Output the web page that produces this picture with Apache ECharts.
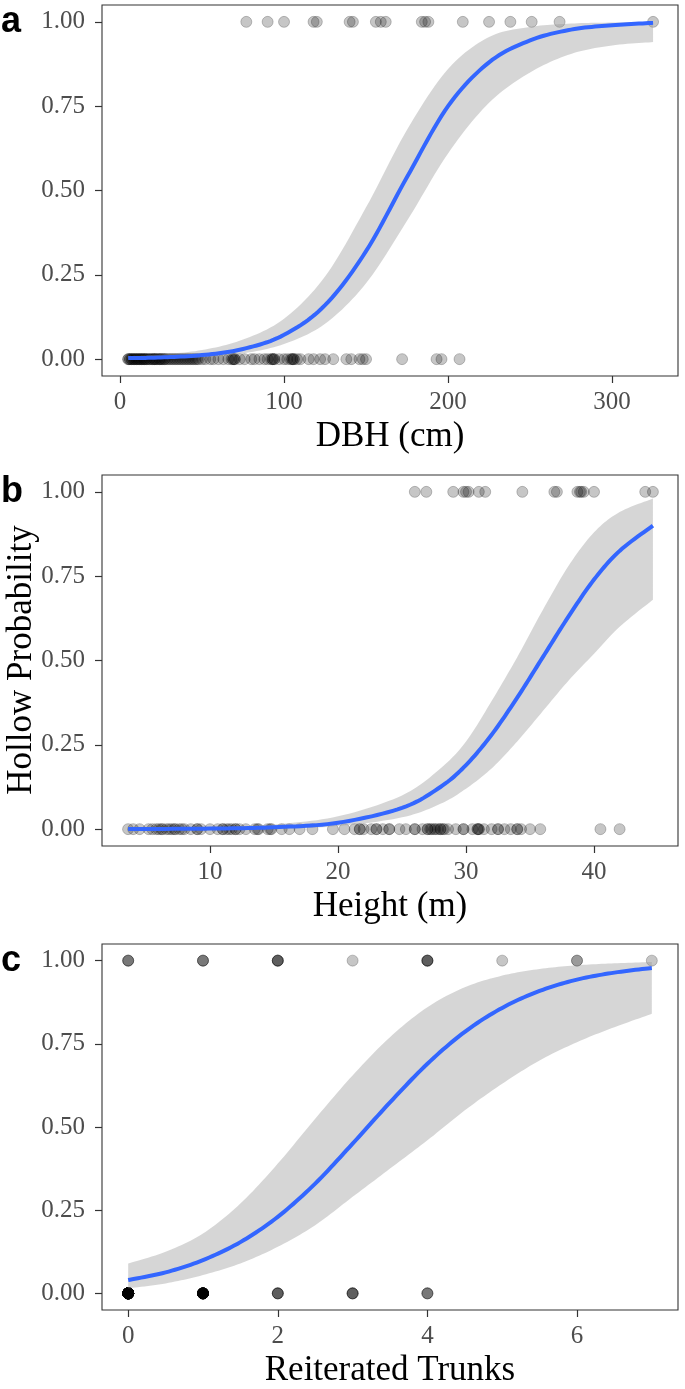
<!DOCTYPE html>
<html><head><meta charset="utf-8">
<script src="https://cdn.jsdelivr.net/npm/echarts@6/dist/echarts.min.js"></script>
<style>html,body{margin:0;padding:0;background:#fff}#c{width:685px;height:1389px}</style>
</head><body><div id="c"></div>
<script>
// ---- Panel a: DBH ----
const dbhOnes = [77, 90, 100, 118, 120, 140, 142, 156, 159, 162, 184, 186, 188, 209, 225, 238, 251, 268, 325];
const dbhZeros = [5, 5, 6, 6, 7, 7, 8, 8, 9, 9, 10, 10, 11, 11, 12, 12, 13, 13, 14, 14, 15, 15, 16, 16, 17, 18, 18, 19, 20, 20, 21, 21, 22, 22, 23, 24, 24, 25, 25, 26, 27, 27, 28, 29, 30, 31, 32, 33, 34, 35, 36, 37, 38, 39, 40, 41, 42, 43, 44, 45, 46, 47, 48, 50, 52, 55, 57, 60, 63, 66, 68, 69, 69, 70, 70, 73, 76, 80, 82, 85, 88, 90, 92, 93, 93, 94, 94, 97, 100, 102, 104, 105, 105, 106, 106, 108, 110, 115, 118, 122, 125, 130, 138, 141, 146, 148, 150, 172, 193, 196, 207];
const dbhCurveX = [5, 25, 50, 75, 100, 125, 150, 175, 200, 225, 250, 275, 300, 325];
const dbhFit = [0.003, 0.005, 0.012, 0.03, 0.072, 0.16, 0.32, 0.54, 0.75, 0.88, 0.945, 0.977, 0.99, 0.997];
const dbhLower = [0.001, 0.002, 0.006, 0.017, 0.045, 0.105, 0.225, 0.41, 0.61, 0.76, 0.85, 0.905, 0.93, 0.94];
const dbhUpper = [0.009, 0.014, 0.027, 0.058, 0.12, 0.245, 0.45, 0.68, 0.86, 0.955, 0.985, 0.995, 0.998, 0.999];
const dbhTicks = [0, 100, 200, 300];

// ---- Panel b: Height ----
const htOnes = [26.0, 26.9, 29.0, 29.8, 30.0, 30.2, 31.0, 31.5, 34.4, 36.9, 37.1, 38.7, 38.9, 39.0, 39.2, 40.0, 44.0, 44.6];
const htZeros = [3.6, 4.0, 4.5, 5.2, 5.5, 5.8, 6.0, 6.2, 6.3, 6.6, 6.8, 7.0, 7.2, 7.3, 7.6, 7.8, 8.0, 8.5, 9.0, 9.0, 9.3, 10.0, 10.6, 11.0, 11.0, 11.3, 11.5, 11.7, 12.0, 12.0, 12.3, 12.8, 13.5, 13.7, 13.8, 14.5, 14.7, 14.8, 15.6, 16.2, 17.0, 18.0, 19.6, 20.5, 21.3, 21.7, 21.7, 22.0, 22.6, 23.0, 23.0, 23.5, 24.0, 24.0, 24.8, 25.3, 26.0, 26.0, 26.6, 27.0, 27.0, 27.2, 27.3, 27.5, 27.6, 27.8, 28.0, 28.0, 28.2, 28.3, 28.6, 29.2, 29.8, 29.8, 30.5, 30.9, 30.9, 31.0, 31.0, 31.4, 32.0, 32.5, 32.5, 33.0, 33.5, 34.0, 34.0, 34.3, 35.0, 35.8, 40.5, 42.0];
const htCurveX = [3.6, 10, 15, 20, 25, 28, 30, 32, 34, 36, 38, 40, 42, 44.6];
const htFit = [0.0003, 0.0016, 0.0055, 0.019, 0.063, 0.125, 0.19, 0.28, 0.39, 0.51, 0.63, 0.74, 0.825, 0.90];
const htLower = [0.0001, 0.0005, 0.002, 0.009, 0.035, 0.075, 0.12, 0.18, 0.26, 0.35, 0.44, 0.52, 0.60, 0.68];
const htUpper = [0.001, 0.005, 0.014, 0.038, 0.10, 0.18, 0.26, 0.38, 0.51, 0.65, 0.78, 0.88, 0.94, 0.98];
const htTicks = [10, 20, 30, 40];

// ---- Panel c: Reiterated trunks ----
const trunkValues = [0, 1, 2, 3, 4, 5, 6, 7];
const trunkZeroCounts = [70, 20, 4, 4, 3, 0, 0, 0];
const trunkOneCounts = [3, 3, 4, 1, 4, 1, 2, 1];
const trunkCurveX = [0, 0.5, 1, 1.5, 2, 2.5, 3, 3.5, 4, 4.5, 5, 5.5, 6, 6.5, 7];
const trunkFit = [0.04, 0.063, 0.10, 0.154, 0.23, 0.33, 0.45, 0.574, 0.69, 0.786, 0.858, 0.909, 0.943, 0.964, 0.978];
const trunkLower = [0.015, 0.03, 0.055, 0.09, 0.14, 0.205, 0.29, 0.375, 0.46, 0.55, 0.63, 0.70, 0.755, 0.80, 0.84];
const trunkUpper = [0.09, 0.125, 0.18, 0.27, 0.39, 0.525, 0.655, 0.77, 0.86, 0.92, 0.955, 0.975, 0.986, 0.992, 0.996];
const trunkTicks = [0, 2, 4, 6];

const yTicks = [0, 0.25, 0.5, 0.75, 1];
const panelLetters = ['a', 'b', 'c'];
const xTitles = ['DBH (cm)', 'Height (m)', 'Reiterated Trunks'];
const yTitle = 'Hollow Probability';

// ---------------------------------------------
const SERIF = 'Liberation Serif';
const tops = [5, 475, 944];
const H = 371;
const xRanges = [[-10.98, 340.2], [1.5625, 46.56], [-0.35, 7.35]];
const xTickSets = [dbhTicks, htTicks, trunkTicks];

const grids = tops.map(t => ({left: 102, top: t, width: 576, height: H, show: true,
  borderColor: '#333', borderWidth: 1.1, backgroundColor: 'transparent'}));

const xAxes = [0,1,2].map(i => ({
  type: 'value', gridIndex: i, min: xRanges[i][0], max: xRanges[i][1],
  axisLine: {show: false, onZero: false},
  splitLine: {show: false},
  axisTick: {show: true, length: 7, lineStyle: {color: '#333', width: 1.2}, customValues: xTickSets[i]},
  axisLabel: {show: true, customValues: xTickSets[i], color: '#4d4d4d', fontFamily: SERIF, fontSize: 25, margin: 14},
  name: xTitles[i], nameLocation: 'middle', nameGap: 43,
  nameTextStyle: {fontFamily: SERIF, fontSize: 35, color: '#000'}
}));

const yAxes = [0,1,2].map(i => ({
  type: 'value', gridIndex: i, min: -0.05, max: 1.05,
  axisLine: {show: false, onZero: false},
  splitLine: {show: false},
  axisTick: {show: true, length: 7, lineStyle: {color: '#333', width: 1.2}, customValues: yTicks},
  axisLabel: {show: true, customValues: yTicks, color: '#4d4d4d', fontFamily: SERIF, fontSize: 25, margin: 17,
    formatter: v => v.toFixed(2)}
}));

function expandCounts(vals, counts, y) {
  const out = [];
  vals.forEach((v, i) => { for (let k = 0; k < counts[i]; k++) out.push([v, y]); });
  return out;
}
const pointSets = [
  dbhZeros.map(v => [v, 0]).concat(dbhOnes.map(v => [v, 1])),
  htZeros.map(v => [v, 0]).concat(htOnes.map(v => [v, 1])),
  expandCounts(trunkValues, trunkZeroCounts, 0).concat(expandCounts(trunkValues, trunkOneCounts, 1))
];
const curves = [
  [dbhCurveX, dbhFit, dbhLower, dbhUpper],
  [htCurveX, htFit, htLower, htUpper],
  [trunkCurveX, trunkFit, trunkLower, trunkUpper]
];

// Catmull-Rom smoothing of pixel points (rendering only)
function smoothPts(pts) {
  const out = [];
  const n = pts.length;
  for (let i = 0; i < n - 1; i++) {
    const p0 = pts[Math.max(0, i - 1)], p1 = pts[i], p2 = pts[i + 1], p3 = pts[Math.min(n - 1, i + 2)];
    const c1 = [p1[0] + (p2[0] - p0[0]) / 6, p1[1] + (p2[1] - p0[1]) / 6];
    const c2 = [p2[0] - (p3[0] - p1[0]) / 6, p2[1] - (p3[1] - p1[1]) / 6];
    const S = 12;
    for (let s = 0; s < S; s++) {
      const t = s / S, u = 1 - t;
      out.push([
        u*u*u*p1[0] + 3*u*u*t*c1[0] + 3*u*t*t*c2[0] + t*t*t*p2[0],
        u*u*u*p1[1] + 3*u*u*t*c1[1] + 3*u*t*t*c2[1] + t*t*t*p2[1]
      ]);
    }
  }
  out.push(pts[n - 1]);
  return out;
}

const series = [];
[0,1,2].forEach(i => {
  const [cx, fit, lo, hi] = curves[i];
  series.push({type: 'scatter', xAxisIndex: i, yAxisIndex: i, data: pointSets[i], symbolSize: 11,
    itemStyle: {color: 'rgba(0,0,0,0.28)', borderColor: 'rgba(0,0,0,0.28)', borderWidth: 1}, z: 2, silent: true});
  series.push({
    type: 'custom', xAxisIndex: i, yAxisIndex: i, z: 3, silent: true,
    data: cx.map((x, k) => [x, lo[k], hi[k], fit[k]]),
    encode: {x: 0, y: [1, 2, 3]},
    renderItem: function (params, api) {
      if (params.dataIndex !== 0) return null;
      const up = smoothPts(cx.map((x, k) => api.coord([x, hi[k]])));
      const low = smoothPts(cx.map((x, k) => api.coord([x, lo[k]])));
      const line = smoothPts(cx.map((x, k) => api.coord([x, fit[k]])));
      return {type: 'group', children: [
        {type: 'polygon', shape: {points: up.concat(low.slice().reverse())},
          style: {fill: 'rgba(153,153,153,0.4)', stroke: null}},
        {type: 'polyline', shape: {points: line},
          style: {stroke: '#3366FF', lineWidth: 4, fill: null}}
      ]};
    }
  });
});

const graphics = panelLetters.map((l, i) => ({
  type: 'text', left: 1, top: tops[i] - 1,
  style: {text: l, fontFamily: 'Liberation Sans', fontWeight: 'bold', fontSize: 36, fill: '#000'}
}));
graphics.push({type: 'text', x: 22, y: 660, rotation: Math.PI / 2,
  style: {text: yTitle, fontFamily: SERIF, fontSize: 35, fill: '#000', textAlign: 'center', textVerticalAlign: 'middle'}});

const chart = echarts.init(document.getElementById('c'), null, {renderer: 'canvas'});
chart.setOption({
  animation: false,
  grid: grids, xAxis: xAxes, yAxis: yAxes, series: series, graphic: graphics
});
</script></body></html>
